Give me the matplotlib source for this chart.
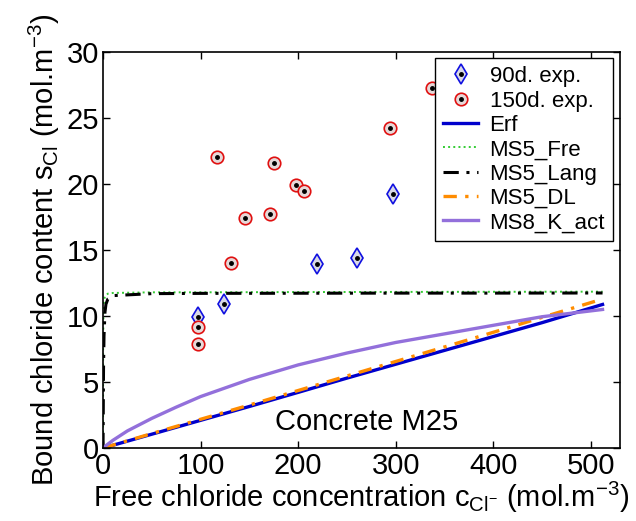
import matplotlib

matplotlib.use("Agg")
import matplotlib.pyplot as plt
from matplotlib.legend_handler import HandlerTuple

plt.rcParams["font.family"] = ["Liberation Sans", "DejaVu Sans"]
plt.rcParams["mathtext.fontset"] = "custom"
plt.rcParams["mathtext.rm"] = "Liberation Sans"
plt.rcParams["mathtext.it"] = "Liberation Sans"

# experimental points (free chloride, bound chloride)
c_90 = [97.6, 123.8, 219.7, 260.3, 297.5]
s_90 = [9.95, 10.9, 13.96, 14.42, 19.27]
c_150 = [97.6, 97.6, 116.4, 131.0, 146.0, 171.6, 175.7, 197.5, 205.7, 293.8, 337.5]
s_150 = [9.19, 7.90, 22.07, 13.99, 17.40, 17.70, 21.57, 19.95, 19.45, 24.27, 27.3]

# model curves
c_lin = [0, 50, 100, 150, 200, 250, 300, 350, 400, 450, 512]
s_erf = [0, 1.05, 2.1, 3.15, 4.22, 5.3, 6.35, 7.4, 8.45, 9.5, 10.88]
s_dl = [0, 1.1, 2.18, 3.26, 4.36, 5.46, 6.56, 7.66, 8.77, 9.9, 11.29]

c_k = [0, 5, 10, 25, 50, 75, 100, 150, 200, 250, 300, 350, 400, 450, 512]
s_k = [0, 0.3, 0.58, 1.3, 2.25, 3.1, 3.9, 5.2, 6.3, 7.2, 8.0, 8.65, 9.3, 9.95, 10.5]

c_iso = [0, 0.5, 1, 2, 3, 5, 10, 50, 100, 200, 300, 400, 512]
s_lang = [0, 6.0, 8.5, 10.3, 10.9, 11.3, 11.55, 11.7, 11.72, 11.73, 11.74, 11.74, 11.75]
c_fre = [0, 0.1, 0.5, 1, 2, 5, 10, 50, 100, 200, 300, 400, 512]
s_fre = [0, 8.0, 10.5, 11.2, 11.5, 11.7, 11.75, 11.8, 11.8, 11.82, 11.83, 11.84, 11.85]

fig = plt.figure(figsize=(6.36, 5.21), dpi=100)
ax = fig.add_axes([0.162, 0.140, 0.813, 0.760])

m90, = ax.plot(c_90, s_90, ls="none", marker="d", ms=10.5, mfc="#d9d9e6", mec="#1010e0",
               mew=1.2)
m150, = ax.plot(c_150, s_150, ls="none", marker="o", ms=9, mfc="#e6d9d9", mec="#e01010",
                mew=1.2)
dots, = ax.plot(c_90 + c_150, s_90 + s_150, ls="none", marker="o", ms=2.5, color="k")
h_erf, = ax.plot(c_lin, s_erf, color="#0000cc", lw=2.4)
h_fre, = ax.plot(c_fre, s_fre, color="#33cc33", lw=1.4, ls=":")
h_lang, = ax.plot(c_iso, s_lang, color="k", lw=2.2, ls=(0, (5, 2.5, 1, 2.5)))
h_dl, = ax.plot(c_lin, s_dl, color="#ff8c00", lw=2.4, ls=(0, (4, 2.5, 1, 2.5)))
h_k, = ax.plot(c_k, s_k, color="#9370db", lw=2.4)

ax.set_xlim(0, 530)
ax.set_ylim(0, 30)
ax.set_xticks(range(0, 501, 100))
ax.set_yticks(range(0, 31, 5))
ax.tick_params(direction="in", top=True, right=True, length=5, width=1,
               labelsize=21, pad=3)
for sp in ax.spines.values():
    sp.set_linewidth(1.2)

ax.set_xlabel(r"Free chloride concentration $\mathrm{c}_{\mathrm{Cl}^{-}}$ (mol.m$^{-3}$)",
              fontsize=21, labelpad=0)
ax.set_ylabel(r"Bound chloride content $\mathrm{s}_{\mathrm{Cl}}$ (mol.m$^{-3}$)",
              fontsize=21, labelpad=3)
ax.text(270, 1.97, "Concrete M25", fontsize=21, ha="center", va="center")

leg = ax.legend([(m90, dots), (m150, dots), h_erf, h_fre, h_lang, h_dl, h_k],
                ["90d. exp.", "150d. exp.", "Erf", "MS5_Fre", "MS5_Lang", "MS5_DL",
                 "MS8_K_act"],
                handler_map={tuple: HandlerTuple(ndivide=1, pad=0)},
                loc="upper right", bbox_to_anchor=(0.986, 0.984), borderaxespad=0,
                fontsize=16, fancybox=False, edgecolor="k", framealpha=1,
                handlelength=1.6, handletextpad=0.5, labelspacing=0.15,
                borderpad=0.35)
leg.get_frame().set_linewidth(1.0)

fig.savefig("out.png", dpi=100)
